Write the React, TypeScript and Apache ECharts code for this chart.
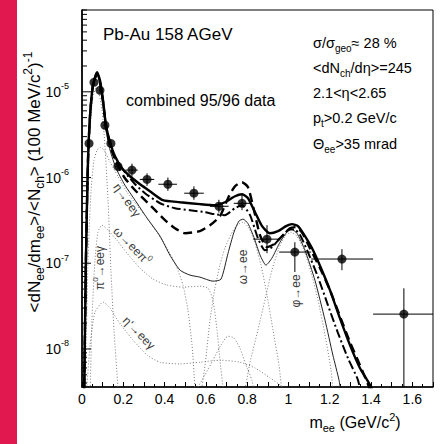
import React, { useEffect, useRef } from "react";
import * as echarts from "echarts";

const FONT = '"Liberation Sans", Arial, Helvetica, sans-serif';

// ---- data points (mass GeV/c^2, yield) ----
const pointMass = [0.034, 0.058, 0.087, 0.111, 0.14, 0.174, 0.242, 0.315, 0.416, 0.542, 0.663, 0.775, 0.896, 1.031, 1.259, 1.559];
const pointYield = [2.5e-6, 1.29e-5, 1.04e-5, 4.07e-6, 2.5e-6, 1.35e-6, 1.22e-6, 9.5e-7, 8.35e-7, 6.56e-7, 4.62e-7, 5.0e-7, 1.91e-7, 1.35e-7, 1.12e-7, 2.55e-8];
const massLo = [0.029, 0.053, 0.082, 0.106, 0.135, 0.164, 0.21, 0.28, 0.37, 0.495, 0.62, 0.735, 0.83, 0.955, 1.11, 1.41];
const massHi = [0.039, 0.063, 0.092, 0.116, 0.145, 0.184, 0.27, 0.35, 0.46, 0.59, 0.71, 0.815, 0.955, 1.11, 1.41, 1.71];
const yieldLo = [2.2e-6, 1.18e-5, 9.5e-6, 3.7e-6, 2.25e-6, 1.18e-6, 1.02e-6, 8.0e-7, 7.0e-7, 5.5e-7, 3.9e-7, 4.16e-7, 1.31e-7, 7.9e-8, 8.3e-8, 1e-9];
const yieldHi = [2.85e-6, 1.41e-5, 1.14e-5, 4.45e-6, 2.78e-6, 1.55e-6, 1.45e-6, 1.12e-6, 1.0e-6, 7.9e-7, 5.5e-7, 6.4e-7, 2.78e-7, 1.76e-7, 1.46e-7, 5.1e-8];

// ---- model curves ----
const thickSolid = [[0.01, 2.5e-9], [0.019, 1.09e-7], [0.029, 1.59e-6], [0.039, 5.32e-6], [0.053, 1.19e-5], [0.073, 1.69e-5], [0.087, 1.36e-5], [0.102, 7.96e-6], [0.116, 4.07e-6], [0.136, 2.58e-6], [0.16, 1.77e-6], [0.194, 1.28e-6], [0.232, 1.035e-6], [0.281, 8.35e-7], [0.329, 6.92e-7], [0.392, 5.44e-7], [0.475, 5.15e-7], [0.571, 4.89e-7], [0.644, 4.75e-7], [0.692, 5.15e-7], [0.741, 6.05e-7], [0.775, 6.38e-7], [0.804, 5.74e-7], [0.838, 3.94e-7], [0.872, 2.71e-7], [0.91, 2.24e-7], [0.949, 2.37e-7], [0.988, 2.71e-7], [1.017, 2.86e-7], [1.046, 2.71e-7], [1.08, 2.07e-7], [1.119, 1.42e-7], [1.162, 8.3e-8], [1.201, 4.86e-8], [1.249, 2.29e-8], [1.298, 1.11e-8], [1.346, 6.0e-9], [1.4, 3.6e-9], [1.42, 2.5e-9]];
const thickDashed = [[0.01, 2.5e-9], [0.019, 1.09e-7], [0.029, 1.59e-6], [0.039, 5.32e-6], [0.053, 1.19e-5], [0.073, 1.64e-5], [0.087, 1.29e-5], [0.102, 7.55e-6], [0.116, 4.07e-6], [0.136, 2.38e-6], [0.165, 1.51e-6], [0.208, 9.8e-7], [0.257, 7.11e-7], [0.305, 5.44e-7], [0.354, 4.16e-7], [0.402, 3.18e-7], [0.45, 2.56e-7], [0.499, 2.24e-7], [0.571, 2.37e-7], [0.62, 2.78e-7], [0.668, 3.54e-7], [0.707, 5.74e-7], [0.741, 7.92e-7], [0.775, 8.81e-7], [0.804, 7.71e-7], [0.833, 4.16e-7], [0.862, 2.13e-7], [0.896, 1.54e-7], [0.93, 1.67e-7], [0.969, 2.07e-7], [1.007, 2.56e-7], [1.036, 2.64e-7], [1.065, 2.3e-7], [1.104, 1.5e-7], [1.153, 8.77e-8], [1.201, 4.86e-8], [1.249, 2.42e-8], [1.298, 1.2e-8], [1.346, 6.5e-9], [1.39, 3.6e-9], [1.41, 2.5e-9]];
const dashDot = [[0.01, 2.5e-9], [0.019, 1.09e-7], [0.029, 1.59e-6], [0.039, 5.32e-6], [0.053, 1.19e-5], [0.073, 1.66e-5], [0.087, 1.32e-5], [0.102, 7.7e-6], [0.116, 4.07e-6], [0.136, 2.44e-6], [0.165, 1.59e-6], [0.208, 1.15e-6], [0.257, 8.35e-7], [0.305, 6.56e-7], [0.378, 5.01e-7], [0.45, 4.39e-7], [0.523, 4.16e-7], [0.596, 3.94e-7], [0.644, 3.73e-7], [0.692, 3.64e-7], [0.741, 4.39e-7], [0.775, 4.75e-7], [0.814, 3.64e-7], [0.852, 1.96e-7], [0.886, 1.42e-7], [0.92, 1.54e-7], [0.959, 1.96e-7], [0.998, 2.43e-7], [1.027, 2.5e-7], [1.056, 2.13e-7], [1.094, 1.35e-7], [1.143, 6.89e-8], [1.191, 3.25e-8], [1.24, 1.53e-8], [1.288, 7.8e-9], [1.337, 4.3e-9], [1.356, 2.5e-9]];
const cocktailSum = [[0.01, 2.5e-9], [0.019, 1.03e-7], [0.029, 1.51e-6], [0.039, 5.0e-6], [0.053, 1.1e-5], [0.073, 1.56e-5], [0.087, 1.22e-5], [0.102, 6.96e-6], [0.116, 3.56e-6], [0.136, 2.08e-6], [0.165, 1.28e-6], [0.208, 8.13e-7], [0.257, 5.44e-7], [0.315, 3.36e-7], [0.378, 2.07e-7], [0.426, 1.24e-7], [0.475, 8.3e-8], [0.523, 7.27e-8], [0.571, 6.89e-8], [0.634, 6.18e-8], [0.673, 6.5e-8], [0.707, 1.3e-7], [0.736, 2.3e-7], [0.76, 3.1e-7], [0.78, 3.27e-7], [0.804, 2.9e-7], [0.833, 2.0e-7], [0.862, 1.25e-7], [0.891, 9.5e-8], [0.92, 1.15e-7], [0.959, 1.76e-7], [0.988, 2.24e-7], [1.012, 2.5e-7], [1.041, 2.24e-7], [1.08, 1.42e-7], [1.128, 6.35e-8], [1.177, 2.17e-8], [1.215, 8.5e-9], [1.245, 4.3e-9], [1.26, 2.5e-9]];

// ---- cocktail components (dotted) ----
const pi0Dalitz = [[0.01, 2.5e-9], [0.019, 6.35e-8], [0.029, 7.11e-7], [0.039, 3.56e-6], [0.053, 8.63e-6], [0.068, 1.1e-5], [0.082, 9.6e-6], [0.097, 6.09e-6], [0.111, 2.38e-6], [0.126, 5.44e-7], [0.14, 8.3e-8], [0.155, 1.66e-8], [0.174, 3.6e-9], [0.18, 2.5e-9]];
const etaDalitz = [[0.015, 2.5e-9], [0.029, 1.09e-7], [0.044, 7.11e-7], [0.058, 1.59e-6], [0.073, 2.08e-6], [0.087, 2.25e-6], [0.107, 2.08e-6], [0.136, 1.51e-6], [0.174, 1.035e-6], [0.218, 6.74e-7], [0.266, 4.75e-7], [0.315, 3.36e-7], [0.363, 2.3e-7], [0.412, 1.5e-7], [0.455, 9.5e-8], [0.489, 5.56e-8], [0.513, 2.84e-8], [0.533, 1.11e-8], [0.547, 3.6e-9], [0.552, 2.5e-9]];
const omegaDalitz = [[0.039, 2.5e-9], [0.048, 2.17e-8], [0.063, 1.09e-7], [0.077, 2.3e-7], [0.097, 2.78e-7], [0.126, 2.43e-7], [0.169, 1.86e-7], [0.218, 1.31e-7], [0.281, 8.77e-8], [0.344, 6.53e-8], [0.412, 5.56e-8], [0.489, 5.26e-8], [0.571, 5.4e-8], [0.61, 5.13e-8], [0.634, 3.72e-8], [0.654, 1.66e-8], [0.668, 7.4e-9], [0.683, 3.6e-9], [0.69, 2.5e-9]];
const etaPrimeDalitz = [[0.019, 2.5e-9], [0.039, 1.11e-8], [0.063, 2.69e-8], [0.102, 3.52e-8], [0.136, 3.0e-8], [0.169, 2.23e-8], [0.208, 1.66e-8], [0.247, 1.27e-8], [0.315, 8.5e-9], [0.378, 7.0e-9], [0.475, 6.7e-9], [0.571, 7.0e-9], [0.673, 7.4e-9], [0.765, 7.0e-9], [0.838, 6.0e-9], [0.91, 4.6e-9], [0.969, 3.6e-9], [0.978, 2.5e-9]];
const rhoBump = [[0.562, 3.6e-9], [0.596, 5.0e-9], [0.634, 7.4e-9], [0.673, 1.11e-8], [0.707, 1.41e-8], [0.736, 1.34e-8], [0.765, 1.02e-8], [0.794, 6.5e-9], [0.823, 4.3e-9], [0.843, 2.5e-9]];
const omegaEE = [[0.571, 2.5e-9], [0.596, 6.5e-9], [0.62, 2.17e-8], [0.644, 5.13e-8], [0.668, 9.5e-8], [0.692, 1.5e-7], [0.722, 2.18e-7], [0.751, 2.78e-7], [0.78, 3.01e-7], [0.809, 2.56e-7], [0.838, 1.71e-7], [0.867, 9.5e-8], [0.896, 4.25e-8], [0.925, 1.66e-8], [0.954, 6.5e-9], [0.973, 2.5e-9]];
const phiEE = [[0.78, 2.5e-9], [0.814, 7.0e-9], [0.852, 1.66e-8], [0.886, 3.72e-8], [0.92, 8.3e-8], [0.954, 1.5e-7], [0.983, 2.07e-7], [1.012, 2.3e-7], [1.041, 2.07e-7], [1.075, 1.42e-7], [1.109, 7.87e-8], [1.143, 3.72e-8], [1.177, 1.45e-8], [1.206, 5.7e-9], [1.22, 2.5e-9]];

const yMin = 3.6e-9;
const yMax = 9e-5;
const yDecades = [-9, -8, -7, -6, -5];

export default function App() {
  const ref = useRef<HTMLDivElement>(null);

  useEffect(() => {
    if (!ref.current) return;
    const chart = echarts.init(ref.current, null, { renderer: "svg" });

    const yTicks: number[][] = [];
    yDecades.forEach((e) => {
      for (let k = 1; k <= 9; k++) {
        const v = k * Math.pow(10, e);
        if (v >= yMin && v <= yMax) yTicks.push([0, v, k === 1 ? 1 : 0]);
      }
    });

    const errData = pointMass.map((m, i) => [m, pointYield[i], massLo[i], massHi[i], yieldLo[i], yieldHi[i]]);
    const ptsData = pointMass.map((m, i) => [m, pointYield[i]]);

    const dotted = (name: string, data: number[][]) => ({
      name,
      type: "line",
      data,
      showSymbol: false,
      symbol: "none",
      smooth: 0.2,
      lineStyle: { color: "#7a7a7a", width: 1, type: [1, 2] },
      z: 2,
    });

    const sub = (size: number, color = "#000") => ({
      fontSize: Math.round(size * 0.68),
      fontFamily: FONT,
      color,
      verticalAlign: "bottom",
      lineHeight: Math.round(size * 0.7),
    });
    const sup = (size: number, color = "#000") => ({
      fontSize: Math.round(size * 0.68),
      fontFamily: FONT,
      color,
      verticalAlign: "top",
      lineHeight: Math.round(size * 0.7),
    });
    const txt = (x: number, y: number, text: string, size: number, extra: any = {}, color = "#000") => ({
      type: "text",
      x,
      y,
      ...extra,
      style: {
        text,
        fontSize: size,
        fontFamily: FONT,
        fill: color,
        align: extra.align || "left",
        verticalAlign: "middle",
        lineHeight: Math.round(size * 1.4),
        rich: {
          n: { fontSize: size, fontFamily: FONT, color, lineHeight: Math.round(size * 1.4) },
          sub: sub(size, color),
          sup: sup(size, color),
        },
      },
    });

    const labelColor = "#3a3a3a";

    chart.setOption({
      animation: false,
      backgroundColor: "#fff",
      grid: { left: 82, right: 9, top: 10, bottom: 57, show: true, borderColor: "#000", borderWidth: 1, outerBoundsMode: "none" },
      xAxis: {
        type: "value",
        min: 0,
        max: 1.7,
        interval: 0.1,
        axisLine: { show: true, lineStyle: { color: "#000", width: 1.6 } },
        axisTick: { show: true, inside: true, length: 5, lineStyle: { color: "#000" } },
        minorTick: { show: true, splitNumber: 2, length: 3, lineStyle: { color: "#000" } },
        splitLine: { show: false },
        axisLabel: {
          margin: 5,
          fontSize: 14,
          fontFamily: FONT,
          color: "#000",
          formatter: (v: number) => {
            const k = Math.round(v * 10);
            if (k % 2 !== 0) return "";
            return String(k / 10);
          },
        },
      },
      yAxis: {
        type: "log",
        logBase: 10,
        min: yMin,
        max: yMax,
        axisLine: { show: true, lineStyle: { color: "#000", width: 1.6 } },
        axisTick: { show: false },
        splitLine: { show: false },
        axisLabel: {
          margin: 13,
          formatter: (v: number) => {
            const e = Math.log10(v);
            const r = Math.round(e);
            if (Math.abs(e - r) > 1e-6) return "";
            return `{b|10}{s|${r}}`;
          },
          rich: {
            b: { fontSize: 14, fontFamily: FONT, color: "#000", lineHeight: 20 },
            s: { fontSize: 9, fontFamily: FONT, color: "#000", verticalAlign: "top", lineHeight: 10 },
          },
        },
      },
      series: [
        {
          type: "custom",
          name: "yticks",
          data: yTicks,
          encode: { x: 0, y: 1 },
          clip: false,
          silent: true,
          z: 5,
          renderItem: (params: any, api: any) => {
            const p = api.coord([api.value(0), api.value(1)]);
            const len = api.value(2) ? 9 : 5;
            return {
              type: "line",
              shape: { x1: p[0], y1: p[1], x2: p[0] + len, y2: p[1] },
              style: { stroke: "#000", lineWidth: 1 },
            };
          },
        },
        dotted("pi0", pi0Dalitz),
        dotted("eta", etaDalitz),
        dotted("omegaDalitz", omegaDalitz),
        dotted("etaPrime", etaPrimeDalitz),
        dotted("rho", rhoBump),
        dotted("omegaEE", omegaEE),
        dotted("phiEE", phiEE),
        {
          name: "cocktail",
          type: "line",
          data: cocktailSum,
          showSymbol: false,
          symbol: "none",
          smooth: 0.2,
          lineStyle: { color: "#222", width: 1 },
          z: 3,
        },
        {
          name: "dashdot",
          type: "line",
          data: dashDot,
          showSymbol: false,
          symbol: "none",
          smooth: 0.2,
          lineStyle: { color: "#000", width: 2, type: [9, 3, 2, 3] },
          z: 4,
        },
        {
          name: "dashed",
          type: "line",
          data: thickDashed,
          showSymbol: false,
          symbol: "none",
          smooth: 0.2,
          lineStyle: { color: "#000", width: 2.4, type: [9, 5] },
          z: 4,
        },
        {
          name: "solid",
          type: "line",
          data: thickSolid,
          showSymbol: false,
          symbol: "none",
          smooth: 0.2,
          lineStyle: { color: "#000", width: 2.4 },
          z: 4,
        },
        {
          type: "custom",
          name: "errors",
          data: errData,
          encode: { x: 0, y: 1 },
          clip: true,
          z: 6,
          renderItem: (params: any, api: any) => {
            const c = api.coord([api.value(0), api.value(1)]);
            const l = api.coord([api.value(2), api.value(1)]);
            const r = api.coord([api.value(3), api.value(1)]);
            const b = api.coord([api.value(0), api.value(4)]);
            const t = api.coord([api.value(0), api.value(5)]);
            return {
              type: "group",
              children: [
                { type: "line", shape: { x1: l[0], y1: c[1], x2: r[0], y2: c[1] }, style: { stroke: "#000", lineWidth: 1 } },
                { type: "line", shape: { x1: c[0], y1: b[1], x2: c[0], y2: t[1] }, style: { stroke: "#000", lineWidth: 1 } },
              ],
            };
          },
        },
        {
          name: "data",
          type: "scatter",
          data: ptsData,
          symbol: "circle",
          symbolSize: 9,
          itemStyle: { color: "#000" },
          z: 7,
        },
      ],
      graphic: [
        { type: "rect", shape: { x: 0, y: 0, width: 17, height: 444 }, style: { fill: "#e1174f" }, z: 10 },
        txt(103, 34, "Pb-Au 158 AGeV", 17),
        txt(126, 100, "combined 95/96 data", 16),
        txt(313, 43, "σ/σ{sub|geo}≈ 28 %", 14.5),
        txt(313, 68, "<dN{sub|ch}/dη>=245", 14.5),
        txt(313, 93, "2.1<η<2.65", 14.5),
        txt(313, 118, "p{sub|t}>0.2 GeV/c", 14.5),
        txt(313, 144, "Θ{sub|ee}>35 mrad", 14.5),
        txt(34, 182, "<dN{sub|ee}/dm{sub|ee}>/<N{sub|ch}> (100 MeV/c{sup|2}){sup|-1}", 17, { rotation: Math.PI / 2, align: "center" }),
        txt(355, 422, "m{sub|ee} (GeV/c{sup|2})", 16, { align: "center" }),
        txt(100, 268, "π{sup|0}→eeγ", 12, { rotation: Math.PI / 2, align: "center" }, labelColor),
        txt(127, 200, "η→eeγ", 12, { rotation: -0.95, align: "center" }, labelColor),
        txt(132, 246, "ω→eeπ{sup|0}", 12, { rotation: -0.8, align: "center" }, labelColor),
        txt(139, 333, "η'→eeγ", 12, { rotation: -0.8, align: "center" }, labelColor),
        txt(243, 267, "ω→ee", 12, { rotation: Math.PI / 2, align: "center" }, labelColor),
        txt(296, 291, "φ→ee", 12, { rotation: Math.PI / 2, align: "center" }, labelColor),
      ],
    });

    return () => chart.dispose();
  }, []);

  return (
    <div
      ref={ref}
      style={{ position: "absolute", left: 0, top: 0, width: 442, height: 444, background: "#fff" }}
    />
  );
}
